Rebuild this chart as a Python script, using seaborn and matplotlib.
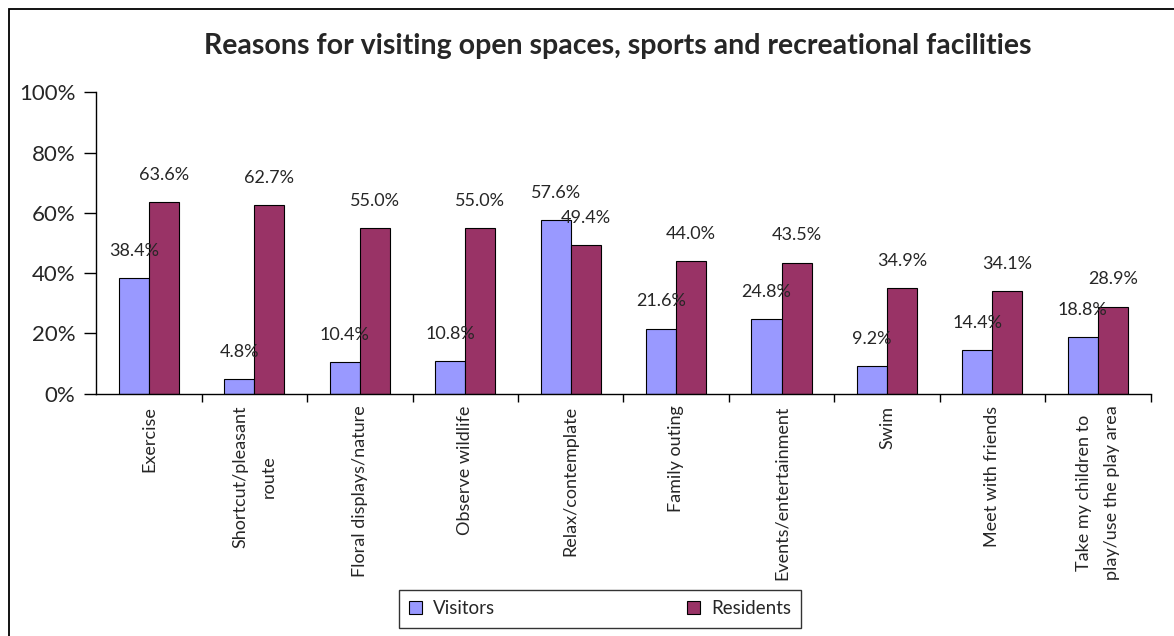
import matplotlib
matplotlib.use("Agg")
import matplotlib.pyplot as plt
from matplotlib.patches import Rectangle
import seaborn as sns
import pandas as pd

categories = ["Exercise", "Shortcut/pleasant\nroute", "Floral displays/nature",
              "Observe wildlife", "Relax/contemplate", "Family outing",
              "Events/entertainment", "Swim", "Meet with friends",
              "Take my children to\nplay/use the play area"]
visitors = [38.4, 4.8, 10.4, 10.8, 57.6, 21.6, 24.8, 9.2, 14.4, 18.8]
residents = [63.6, 62.7, 55.0, 55.0, 49.4, 44.0, 43.5, 34.9, 34.1, 28.9]
series = ["Visitors", "Residents"]
colors = ["#9999FF", "#993366"]

df = pd.DataFrame({
    "category": categories * 2,
    "value": visitors + residents,
    "group": [series[0]] * len(categories) + [series[1]] * len(categories),
})

sns.set_theme(style="white")
plt.rcParams["font.family"] = ["Lato", "DejaVu Sans"]

fig = plt.figure(figsize=(11.74, 6.36), dpi=100)
ax = fig.add_axes([0.082, 0.381, 0.898, 0.474])

sns.barplot(data=df, x="category", y="value", hue="group", hue_order=series,
            palette=colors, order=categories, width=0.57, ax=ax,
            edgecolor="black", linewidth=0.8, legend=False, saturation=1)

ax.set_ylim(0, 100)
ax.set_xlim(-0.5, len(categories) - 0.5)
ax.set_yticks(range(0, 101, 20))
ax.set_yticklabels([f"{v}%" for v in range(0, 101, 20)], fontsize=16)
ax.set_xticks([i + 0.5 for i in range(len(categories))])
ax.set_xticklabels([])
ax.set_xlabel("")
ax.set_ylabel("")
for i, cat in enumerate(categories):
    ax.text(i, -4, cat, rotation=90, ha="center", va="top", fontsize=13,
            multialignment="center", linespacing=1.9)

ax.tick_params(axis="y", left=True, length=9, width=1, color="black", pad=6)
ax.tick_params(axis="x", bottom=True, length=6, width=1, color="black",
               direction="out")
for side in ["top", "right"]:
    ax.spines[side].set_visible(False)
for side in ["left", "bottom"]:
    ax.spines[side].set_color("black")
    ax.spines[side].set_linewidth(1)

# value labels above each bar
for container, vals in zip(ax.containers, [visitors, residents]):
    for bar, v in zip(container, vals):
        ax.text(bar.get_x() + bar.get_width() / 2, v + 9, f"{v:.1f}%",
                ha="center", va="center", fontsize=13)

fig.text(0.526, 0.927, "Reasons for visiting open spaces, sports and recreational facilities",
         ha="center", va="center", fontsize=20.5, fontweight="bold")

# legend box
handles = [Rectangle((0, 0), 1, 1, facecolor=c, edgecolor="black", linewidth=0.8) for c in colors]
leg = fig.legend(handles, series, loc="center", bbox_to_anchor=(0.511, 0.0425), ncol=2,
                 frameon=True, fancybox=False, edgecolor="black", fontsize=13.5,
                 handlelength=0.7, handleheight=0.7, columnspacing=10.2,
                 borderpad=0.55, handletextpad=0.6, borderaxespad=0)
leg.get_frame().set_linewidth(1)
for t in leg.get_texts():
    t.set_x(0)

# outer chart frame (right and bottom edges lie past the canvas)
fig.patches.append(Rectangle((0.0075, -0.05), 1.0, 1.036, transform=fig.transFigure,
                             fill=False, edgecolor="black", linewidth=1.3))

fig.savefig("out.png", dpi=100)
